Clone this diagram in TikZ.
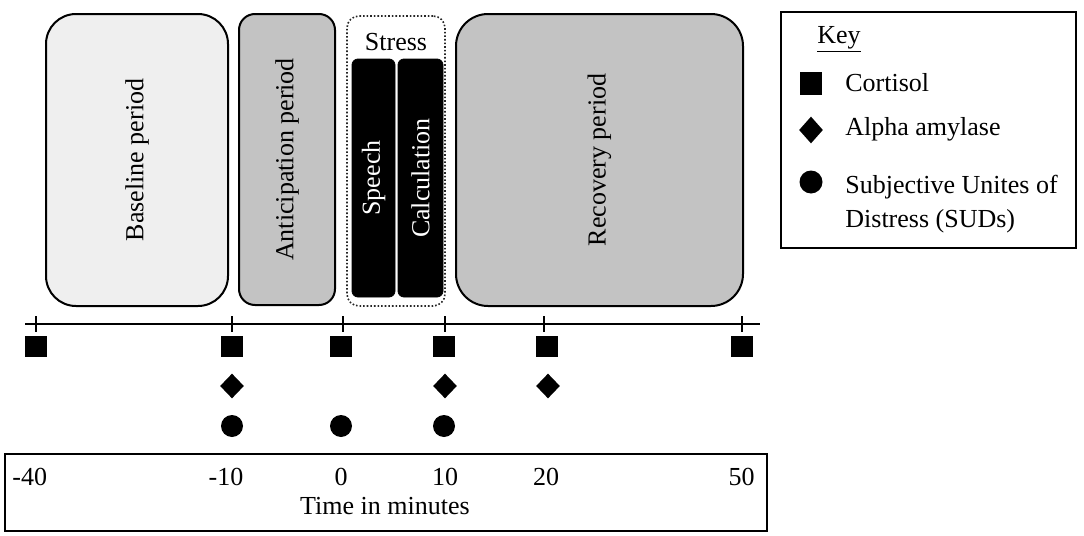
\documentclass[tikz,border=0pt]{standalone}
\usepackage{fontspec}
\setmainfont{Liberation Serif}
\usetikzlibrary{shapes.geometric}
\definecolor{lightfill}{HTML}{EFEFEF}
\definecolor{midfill}{HTML}{C3C3C3}
\begin{document}
\begin{tikzpicture}[x=0.5pt,y=-0.5pt,
  every node/.style={font=\fontsize{13}{16}\selectfont},
  period/.style={draw=black,line width=1pt,rectangle,inner sep=0pt},
  task/.style={fill=black,draw=black,rectangle,inner sep=0pt,rounded corners=3pt,
    minimum height=119pt},
  framebox/.style={draw=black,line width=1pt,rectangle,inner sep=0pt},
  sq/.style={rectangle,fill=black,inner sep=0pt,minimum width=11pt,minimum height=10.5pt},
  dia/.style={diamond,fill=black,inner sep=0pt,minimum width=12pt,minimum height=12.5pt},
  dot/.style={circle,fill=black,inner sep=0pt,minimum size=11pt},
  lbl/.style={inner sep=0pt}
]
\useasboundingbox (0,0) rectangle (1084,536);

% period boxes
\node[period,fill=lightfill,rounded corners=15pt,minimum width=91pt,minimum height=146pt] (base) at (137,160) {};
\node[lbl,rotate=90] (baseT) at (base.center) {Baseline period};
\node[period,fill=midfill,rounded corners=8pt,minimum width=48pt,minimum height=145.5pt] (antic) at (287,159.5) {};
\node[lbl,rotate=90] (anticT) at (antic.center) {Anticipation period};
\node[rectangle,draw=black!85,line width=0.8pt,densely dotted,rounded corners=6pt,inner sep=0pt,minimum width=49pt,minimum height=145pt] (stress) at (396,161) {};
\node[lbl,anchor=base] (stressT) at (396,50) {Stress};
\node[task,minimum width=21.5pt] (speech) at (373.5,178) {};
\node[lbl,rotate=90,text=white] (speechT) at (speech.center) {Speech};
\node[task,minimum width=22.5pt] (calc) at (420.5,178) {};
\node[lbl,rotate=90,text=white] (calcT) at (calc.center) {Calculation};
\node[period,fill=midfill,rounded corners=16pt,minimum width=143.5pt,minimum height=146pt] (recov) at (599.5,160) {};
\node[lbl,rotate=90] (recovT) at (recov.center) {Recovery period};

% key
\node[framebox,minimum width=147.5pt,minimum height=118pt] (key) at (928.5,130) {};
\node[lbl,anchor=base west] (keyT) at (817,43) {\underline{Key}};
\node[sq,minimum width=11pt,minimum height=11.5pt] (kSq) at (811,83) {};
\node[lbl,anchor=base west] (kSqT) at (845,91) {Cortisol};
\node[dia,minimum width=12pt,minimum height=13.5pt] (kDia) at (811,130) {};
\node[lbl,anchor=base west] (kDiaT) at (845,135) {Alpha amylase};
\node[dot,minimum size=11.5pt] (kDot) at (811,182) {};
\node[lbl,anchor=base west] (kDotT) at (845,193) {Subjective Unites of};
\node[lbl,anchor=base west] (kDotT2) at (845,227) {Distress (SUDs)};

% axis
\coordinate (axL) at (25,324);
\coordinate (axR) at (760,324);
\draw[line width=1pt] (axL) -- (axR);
\foreach \n/\x in {a/36,b/232,c/343,d/445,e/544,f/742}{
  \coordinate (top\n) at (\x,316);
  \coordinate (bot\n) at (\x,332);
  \draw[line width=1pt] (top\n) -- (bot\n);
}

% markers
\foreach \n/\x in {a/36,b/232,c/341,d/444,e/547,f/742}{
  \node[sq] (sq\n) at (\x,346) {};
}
\foreach \n/\x in {b/232,d/445,e/548}{
  \node[dia] (dia\n) at (\x,386) {};
}
\foreach \n/\x in {b/232,c/341,d/444}{
  \node[dot] (dot\n) at (\x,426) {};
}

% time box
\node[framebox,minimum width=381pt,minimum height=38.5pt] (time) at (386,492.5) {};
\node[lbl,anchor=base west] (tA) at (12,485) {-40};
\node[lbl,anchor=base] (tB) at (226,485) {-10};
\node[lbl,anchor=base] (tC) at (341,485) {0};
\node[lbl,anchor=base] (tD) at (445,485) {10};
\node[lbl,anchor=base] (tE) at (546,485) {20};
\node[lbl,anchor=base east] (tF) at (755,485) {50};
\node[lbl,anchor=base] (tT) at (385,514) {Time in minutes};
\end{tikzpicture}
\end{document}
